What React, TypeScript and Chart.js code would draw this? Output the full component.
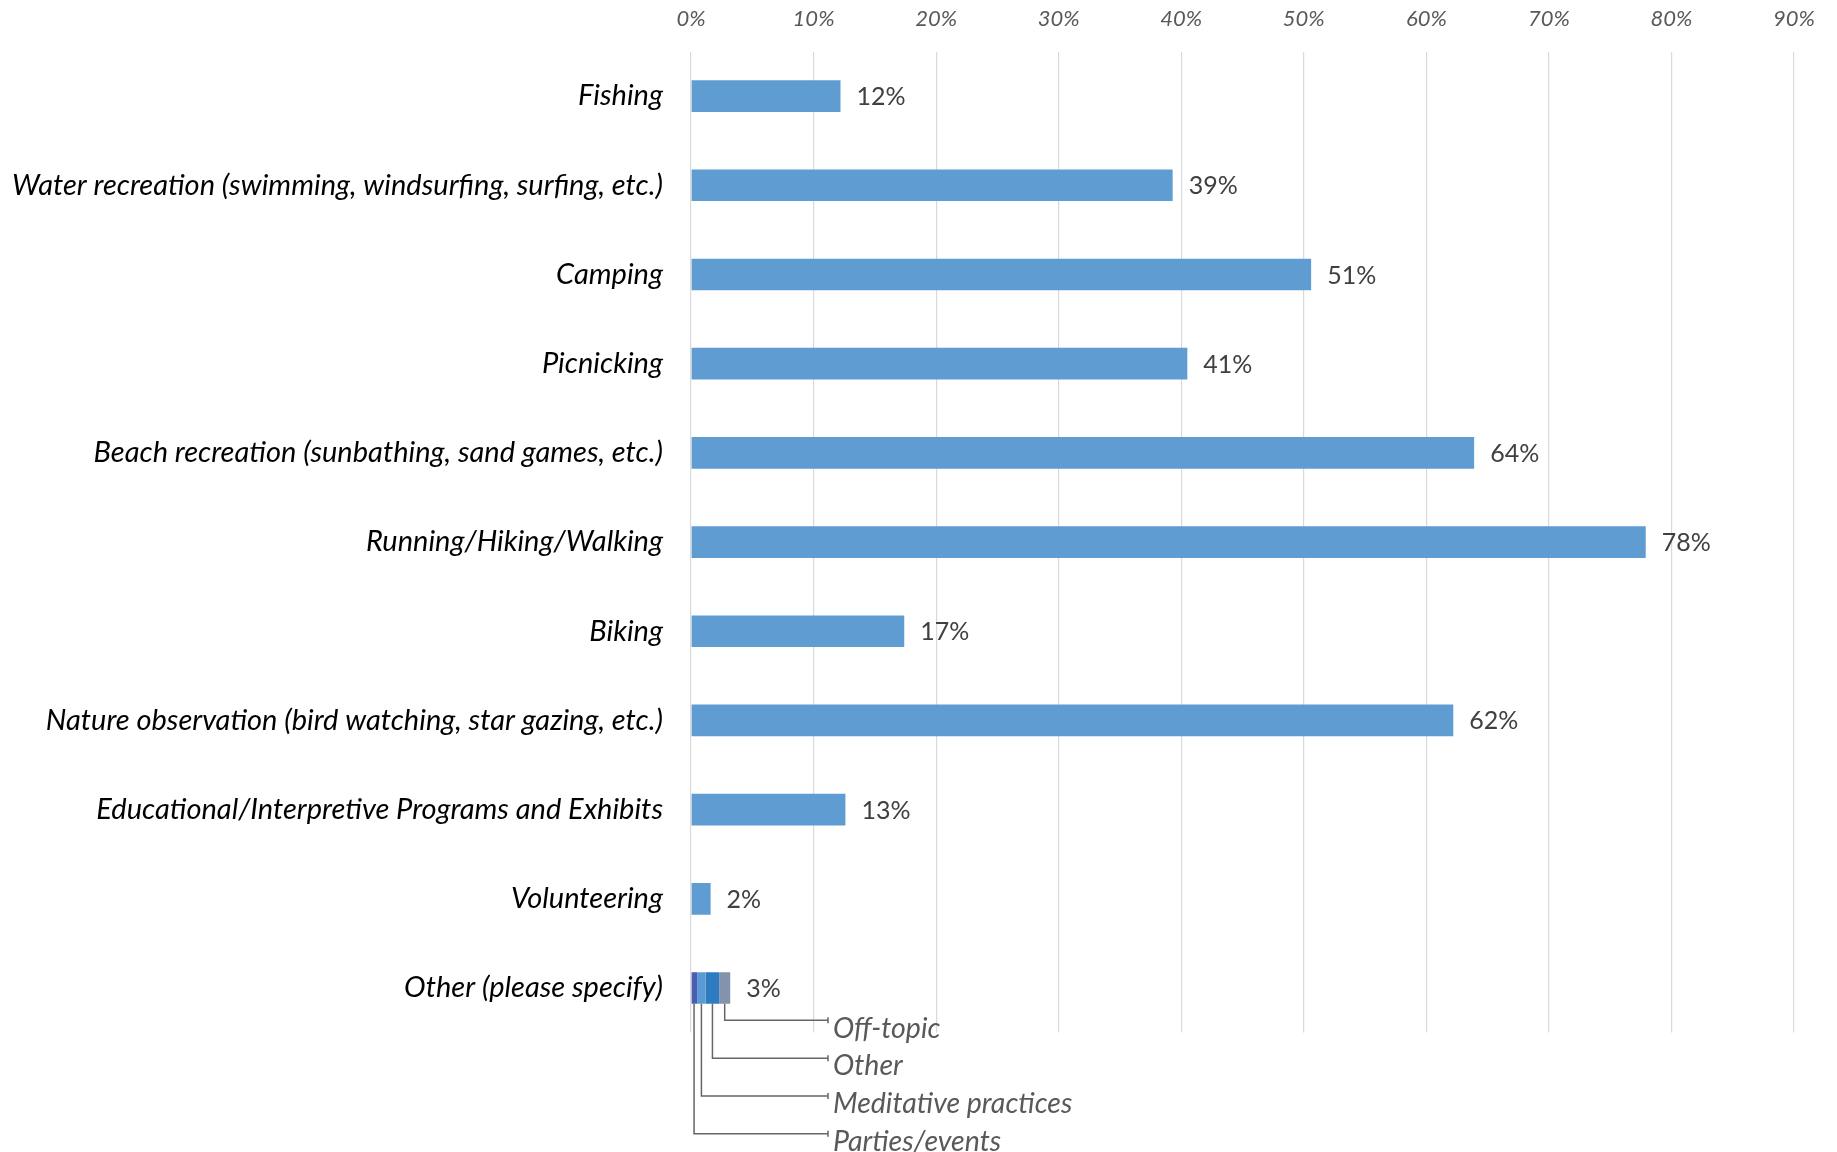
import React, { useEffect, useRef } from 'react';
import { Chart, registerables } from 'chart.js';

Chart.register(...registerables);

const categories = [
  'Fishing',
  'Water recreation (swimming, windsurfing, surfing, etc.)',
  'Camping',
  'Picnicking',
  'Beach recreation (sunbathing, sand games, etc.)',
  'Running/Hiking/Walking',
  'Biking',
  'Nature observation (bird watching, star gazing, etc.)',
  'Educational/Interpretive Programs and Exhibits',
  'Volunteering',
  'Other (please specify)',
];
const values: (number | null)[] = [12.2, 39.3, 50.6, 40.5, 63.9, 77.9, 17.4, 62.2, 12.6, 1.6, null];
const otherParts = ['Parties/events', 'Meditative practices', 'Other', 'Off-topic'];
const otherValues = [0.5, 0.7, 1.1, 0.9];
const otherColors = ['#4A5FB0', '#5B9BD5', '#2E7BC0', '#8293AB'];
const xMax = 90;
const xStep = 10;

const W = 1837;
const H = 1152;

export default function App() {
  const ref = useRef<HTMLCanvasElement | null>(null);
  useEffect(() => {
    document.body.style.margin = '0';
    const canvas = ref.current;
    if (!canvas) return;
    const otherIdx = categories.length - 1;

    const labelPlugin = {
      id: 'valueLabels',
      afterDatasetsDraw(chart: any) {
        const ctx = chart.ctx;
        const xs = chart.scales.x;
        const ys = chart.scales.y;
        ctx.save();
        ctx.font = '25px Lato';
        ctx.fillStyle = '#404040';
        ctx.textBaseline = 'middle';
        ctx.textAlign = 'left';
        categories.forEach((_, i) => {
          let total = 0;
          chart.data.datasets.forEach((ds: any) => {
            const v = ds.data[i];
            if (typeof v === 'number') total += v;
          });
          const x = xs.getPixelForValue(total);
          const y = ys.getPixelForValue(i);
          ctx.fillText(`${Math.round(total)}%`, x + 16, y + 1);
        });

        // leader lines for "Other" breakdown
        let cum = 0;
        const x0 = xs.getPixelForValue(0);
        const endX = x0 + 137;
        ctx.strokeStyle = '#666666';
        ctx.lineWidth = 1.5;
        ctx.font = 'italic 28.5px Lato';
        ctx.fillStyle = '#595959';
        otherValues.forEach((v, k) => {
          const meta = chart.getDatasetMeta(k + 1);
          const el = meta.data[otherIdx];
          const barBottom = el.y + el.height / 2;
          const ax = xs.getPixelForValue(cum + v / 2);
          cum += v;
          const ly = barBottom + 16.5 + (otherValues.length - 1 - k) * 37.8;
          ctx.beginPath();
          ctx.moveTo(ax, barBottom);
          ctx.lineTo(ax, ly);
          ctx.lineTo(endX, ly);
          ctx.moveTo(endX, ly - 3);
          ctx.lineTo(endX, ly + 3);
          ctx.stroke();
          ctx.fillText(otherParts[k], endX + 5, ly + 8);
        });
        ctx.restore();
      },
    };

    const datasets: any[] = [
      {
        label: 'main',
        data: values,
        backgroundColor: '#5F9CD2',
        barPercentage: 0.355,
        categoryPercentage: 1,
      },
      ...otherParts.map((p, k) => ({
        label: p,
        data: categories.map((_, i) => (i === otherIdx ? otherValues[k] : null)),
        backgroundColor: otherColors[k],
        barPercentage: 0.355,
        categoryPercentage: 1,
      })),
    ];

    const chart = new Chart(canvas, {
      type: 'bar',
      data: { labels: categories, datasets },
      options: {
        indexAxis: 'y',
        animation: false,
        responsive: false,
        maintainAspectRatio: false,
        layout: { padding: { left: 0, right: 43, top: 0, bottom: 119.4 } },
        plugins: { legend: { display: false }, tooltip: { enabled: false } },
        scales: {
          x: {
            type: 'linear',
            position: 'top',
            stacked: true,
            min: 0,
            max: xMax,
            afterFit: (s: any) => { s.height = 51.5; },
            ticks: {
              stepSize: xStep,
              callback: (v: any) => `${v}%`,
              color: '#595959',
              font: { family: 'Lato', size: 22, style: 'italic' },
              padding: 19,
            },
            grid: { color: '#d9d9d9', lineWidth: 1.2, drawTicks: false },
            border: { display: false },
          },
          y: {
            type: 'category',
            stacked: true,
            afterFit: (s: any) => { s.width = 691; },
            ticks: {
              color: '#000000',
              font: { family: 'Lato', size: 29, style: 'italic' },
              padding: 28,
            },
            grid: { display: false, drawTicks: false },
            border: { display: false },
          },
        },
      },
      plugins: [labelPlugin],
    });
    return () => chart.destroy();
  }, []);
  return (
    <div style={{ width: W, height: H, background: '#fff' }}>
      <canvas ref={ref} width={W} height={H} style={{ width: W, height: H, display: 'block' }} />
    </div>
  );
}
